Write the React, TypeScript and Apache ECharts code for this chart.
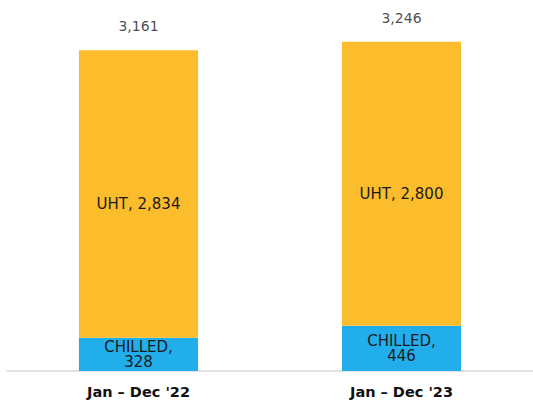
import React, { useEffect, useRef } from "react";
import * as echarts from "echarts";

const categories = ["Jan – Dec '22", "Jan – Dec '23"];
const chilled = [328, 446];
const uht = [2834, 2800];
const totals = [3161, 3246];

const fmt = (v: number) => v.toLocaleString("en-US");
const FONT = "DejaVu Sans";

export default function App() {
  const ref = useRef<HTMLDivElement>(null);
  useEffect(() => {
    if (!ref.current) return;
    const chart = echarts.init(ref.current, null, { renderer: "svg" });
    chart.setOption({
      animation: false,
      grid: { left: 7, right: 0, top: 20, bottom: 29, containLabel: false },
      xAxis: {
        type: "category",
        data: categories,
        axisLine: { lineStyle: { color: "#e3e3e3", width: 2 } },
        axisTick: { show: false },
        axisLabel: {
          color: "#111",
          fontFamily: FONT,
          fontSize: 14.5,
          fontWeight: "bold",
          margin: 13,
        },
      },
      yAxis: {
        type: "value",
        min: 0,
        max: 3460,
        show: false,
        splitLine: { show: false },
      },
      series: [
        {
          type: "bar",
          stack: "t",
          data: chilled,
          barWidth: "45.3%",
          itemStyle: { color: "#22AEEA" },
          label: {
            show: true,
            position: "inside",
            color: "#1a1a1a",
            fontFamily: FONT,
            fontSize: 15,
            lineHeight: 15,
            formatter: (p: any) => "CHILLED,\n" + fmt(p.value),
          },
        },
        {
          type: "bar",
          stack: "t",
          data: uht,
          barWidth: "45.3%",
          itemStyle: { color: "#FCBD2D" },
          label: {
            show: true,
            position: "inside",
            offset: [0, 10],
            color: "#1a1a1a",
            fontFamily: FONT,
            fontSize: 15,
            formatter: (p: any) => "UHT, " + fmt(p.value),
          },
        },
        {
          type: "scatter",
          data: totals,
          symbolSize: 0,
          itemStyle: { color: "transparent" },
          label: {
            show: true,
            position: "top",
            distance: 17,
            color: "#1a1a1a",
            fontFamily: FONT,
            fontSize: 14,
            formatter: (p: any) => fmt(p.value),
          },
        },
      ],
    });
    return () => chart.dispose();
  }, []);
  return <div ref={ref} style={{ width: 533, height: 400, position: "absolute", left: 0, top: 0 }} />;
}
